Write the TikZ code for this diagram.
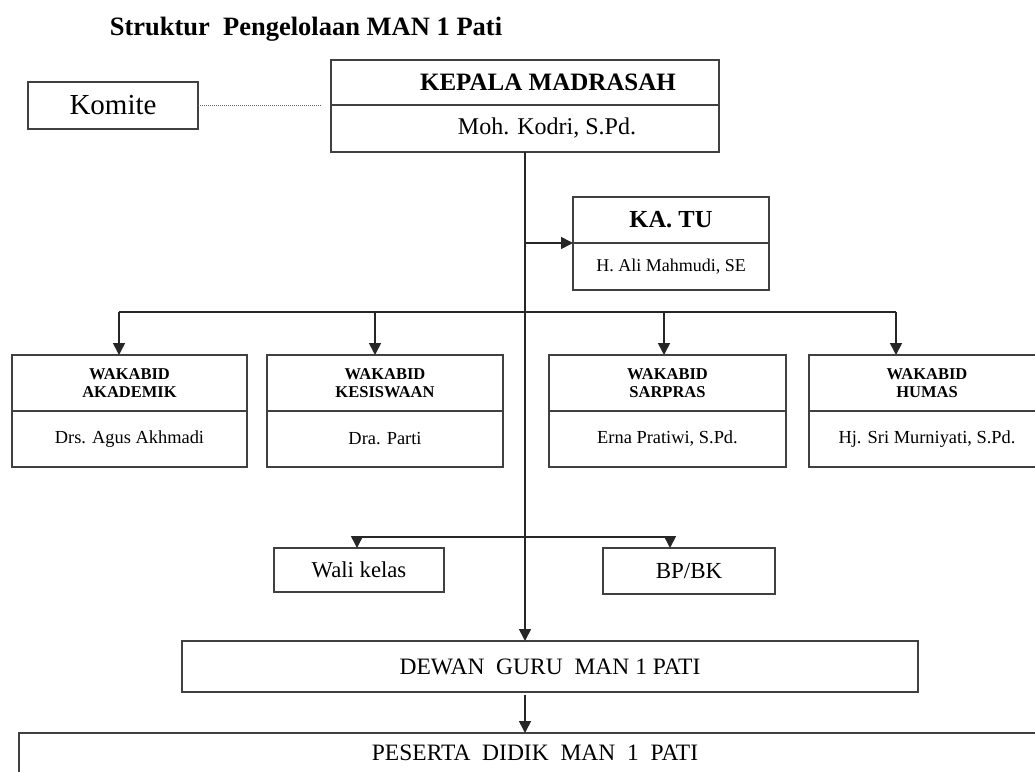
\documentclass[tikz,border=0pt]{standalone}
\usepackage{fontspec}
\setmainfont{Liberation Serif}
\usetikzlibrary{arrows.meta,positioning,calc}

\begin{document}
\begin{tikzpicture}[x=1pt, y=-1pt, >={Triangle[length=12pt,width=12pt]}, line width=1.6pt,
	box/.style={draw=black!75, line width=1.6pt, inner sep=0pt, outer sep=0pt, align=center},
	headbox/.style={box, font=\fontsize{16.5}{18}\selectfont\bfseries},
	namebox/.style={box, font=\fontsize{18.4}{21}\selectfont},
	conn/.style={draw=black!85, line width=1.6pt}]
	\useasboundingbox (0,0) rectangle (1035,771);
	\node[anchor=base west, inner sep=0pt, font=\fontsize{26.5}{30}\selectfont\bfseries] (judul) at (109,35) {Struktur~ Pengelolaan MAN 1 Pati};
	% pimpinan
	\node[box, minimum width=170pt, minimum height=47pt, font=\fontsize{29}{32}\selectfont] at (113,105.5) (komite) {Komite};
	\node[box, minimum width=388pt, minimum height=45pt, font=\fontsize{25}{28}\selectfont\bfseries] at (525,82.5) (kepala) {\hspace*{46pt}KEPALA MADRASAH};
	\node[box, minimum width=388pt, minimum height=47pt, font=\fontsize{24}{27}\selectfont, below=0pt of kepala] (kodri) {\hspace*{44pt}Moh. Kodri, S.Pd.};
	\node[box, minimum width=196pt, minimum height=46pt, font=\fontsize{24.5}{28}\selectfont\bfseries] at (671,220) (katu) {KA. TU};
	\node[box, minimum width=196pt, minimum height=47pt, font=\fontsize{18}{21}\selectfont, below=0pt of katu] (ali) {H. Ali Mahmudi, SE};
	% wakabid
	\node[headbox, minimum width=235pt, minimum height=56pt] at (129.5,383) (akademik) {WAKABID\\AKADEMIK};
	\node[namebox, minimum width=235pt, minimum height=56pt, below=0pt of akademik] (agus) {Drs. Agus Akhmadi};
	\node[headbox, minimum width=236pt, minimum height=56pt] at (385,383) (kesiswaan) {WAKABID\\KESISWAAN};
	\node[namebox, minimum width=236pt, minimum height=56pt, below=0pt of kesiswaan] (parti) {Dra. Parti};
	\node[headbox, minimum width=237pt, minimum height=56pt] at (667.5,383) (sarpras) {WAKABID\\SARPRAS};
	\node[namebox, minimum width=237pt, minimum height=56pt, below=0pt of sarpras] (erna) {Erna Pratiwi, S.Pd.};
	\node[headbox, minimum width=236pt, minimum height=56pt] at (927,383) (humas) {WAKABID\\HUMAS};
	\node[namebox, minimum width=236pt, minimum height=56pt, below=0pt of humas] (sri) {Hj. Sri Murniyati, S.Pd.};
	% wali kelas, bp/bk
	\node[box, minimum width=170pt, minimum height=44pt, font=\fontsize{22.7}{26}\selectfont] at (359,570) (wali) {Wali kelas};
	\node[box, minimum width=172pt, minimum height=46pt, font=\fontsize{23}{26}\selectfont] at (689,571) (bpbk) {BP/BK};
	\node[box, minimum width=736pt, minimum height=51pt, font=\fontsize{23.5}{27}\selectfont] at (550,666.5) (dewan) {DEWAN~ GURU~ MAN 1 PATI};
	\node[box, minimum width=1032pt, minimum height=40pt, font=\fontsize{23.5}{27}\selectfont] at (535,753) (peserta) {PESERTA~ DIDIK~ MAN~ 1~ PATI};
	% garis
	\coordinate (b1) at (119,312); \coordinate (b2) at (375,312);
	\coordinate (b3) at (664,312); \coordinate (b4) at (896,312);
	\coordinate (w1) at (357,537); \coordinate (w2) at (670,537);
	\draw[densely dotted, line width=1pt, black!60] (komite) -- ([xshift=-10pt]komite.east -| kepala.west);
	\draw[conn, ->] (kodri.south) -- (kodri.south |- dewan.north);
	\draw[conn, ->] (kodri.south |- ali.north west) -- (ali.north west);
	\draw[conn] (b1) -- (b4);
	\draw[conn, ->] (b1) -- (b1 |- akademik.north);
	\draw[conn, ->] (b2) -- (b2 |- kesiswaan.north);
	\draw[conn, ->] (b3) -- (b3 |- sarpras.north);
	\draw[conn, ->] (b4) -- (b4 |- humas.north);
	\draw[conn] (w1) -- (w2);
	\draw[conn, ->] (w1) -- (w1 |- wali.north);
	\draw[conn, ->] (w2) -- (w2 |- bpbk.north);
	\draw[conn, ->, shorten <=3pt] (kodri.south |- dewan.south) -- (kodri.south |- peserta.north);
\end{tikzpicture}
\end{document}
